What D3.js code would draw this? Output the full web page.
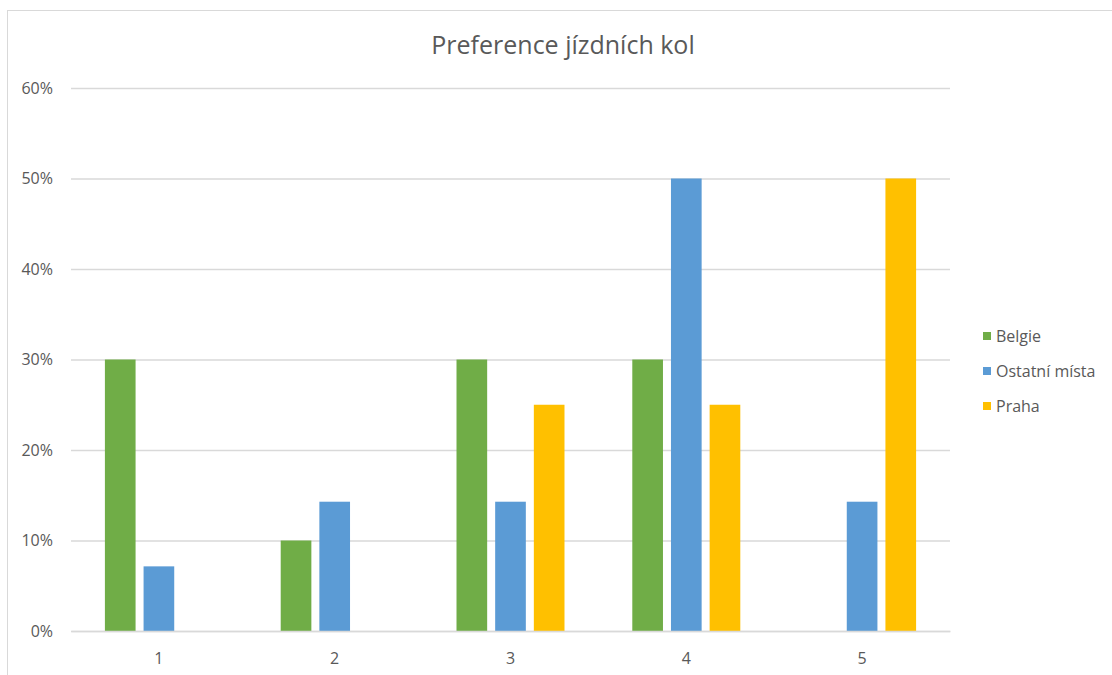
<!DOCTYPE html>
<html>
<head>
<meta charset="utf-8">
<script src="https://cdn.jsdelivr.net/npm/d3@7"></script>
<style>
  html, body { margin: 0; padding: 0; background: #fff; }
  svg text { font-family: "Open Sans", "Liberation Sans", sans-serif; fill: #595959; }
</style>
</head>
<body>
<svg id="chart" width="1112" height="675"></svg>
<script>
// Categories (bike preference rating) and share per region
const categories = ["1", "2", "3", "4", "5"];
const seriesNames = ["Belgie", "Ostatní místa", "Praha"];
const belgie = [0.30, 0.10, 0.30, 0.30, 0];
const ostatniMista = [1 / 14, 2 / 14, 2 / 14, 7 / 14, 2 / 14];
const praha = [0, 0, 0.25, 0.25, 0.50];
const yTicks = [0, 0.1, 0.2, 0.3, 0.4, 0.5, 0.6];
const colors = ["#70AD47", "#5B9BD5", "#FFC000"];

const values = [belgie, ostatniMista, praha];
const rows = categories.map((c, i) => ({
  cat: c,
  vals: seriesNames.map((s, k) => ({ key: s, value: values[k][i] }))
}));

const svg = d3.select("#chart");
const plotLeft = 71, plotRight = 950, plotTop = 88, plotBottom = 631;

// chart frame
svg.append("rect")
  .attr("x", 7.5).attr("y", 10.5)
  .attr("width", 1120).attr("height", 700)
  .attr("fill", "none").attr("stroke", "#d9d9d9").attr("stroke-width", 1);

// title
svg.append("text")
  .attr("x", 563).attr("y", 54)
  .attr("text-anchor", "middle")
  .style("font-size", "25px")
  .text("Preference jízdních kol");

const y = d3.scaleLinear().domain([0, 0.6]).range([plotBottom, plotTop]);
const x0 = d3.scaleBand().domain(categories).range([plotLeft, plotRight]).padding(0);
const bw = x0.bandwidth();
const x1 = d3.scaleBand().domain(seriesNames)
  .range([bw / 2 - 58, bw / 2 + 58])
  .paddingInner(0.207).paddingOuter(0.1035);

// gridlines
const yAxis = d3.axisLeft(y).tickValues(yTicks).tickFormat(d3.format(".0%"))
  .tickSize(-(plotRight - plotLeft)).tickPadding(18);
const gy = svg.append("g").attr("transform", `translate(${plotLeft},0)`).call(yAxis);
gy.select(".domain").remove();
gy.selectAll(".tick line").attr("stroke", "#d9d9d9").attr("stroke-width", 1.3);
gy.selectAll(".tick text").style("font-size", "16px").attr("fill", "#595959");

// bars
const groups = svg.append("g").selectAll("g").data(rows).join("g")
  .attr("transform", d => `translate(${x0(d.cat)},0)`);
groups.selectAll("rect").data(d => d.vals.filter(v => v.value > 0)).join("rect")
  .attr("x", d => x1(d.key))
  .attr("width", x1.bandwidth())
  .attr("y", d => y(d.value))
  .attr("height", d => y(0) - y(d.value))
  .attr("fill", d => colors[seriesNames.indexOf(d.key)]);

// x axis
const xAxis = d3.axisBottom(x0).tickSize(0).tickPadding(22);
const gx = svg.append("g").attr("transform", `translate(0,${plotBottom})`).call(xAxis);
gx.select(".domain").attr("stroke", "#d9d9d9").attr("stroke-width", 1.3);
gx.selectAll(".tick text").style("font-size", "16px").attr("fill", "#595959");

// legend
const legend = svg.append("g").selectAll("g").data(seriesNames).join("g")
  .attr("transform", (d, i) => `translate(983,${336 + i * 35})`);
legend.append("rect")
  .attr("x", 0).attr("y", -4).attr("width", 8).attr("height", 8)
  .attr("fill", (d, i) => colors[i]);
legend.append("text")
  .attr("x", 13).attr("y", 6)
  .style("font-size", "16px")
  .text(d => d);
</script>
</body>
</html>
